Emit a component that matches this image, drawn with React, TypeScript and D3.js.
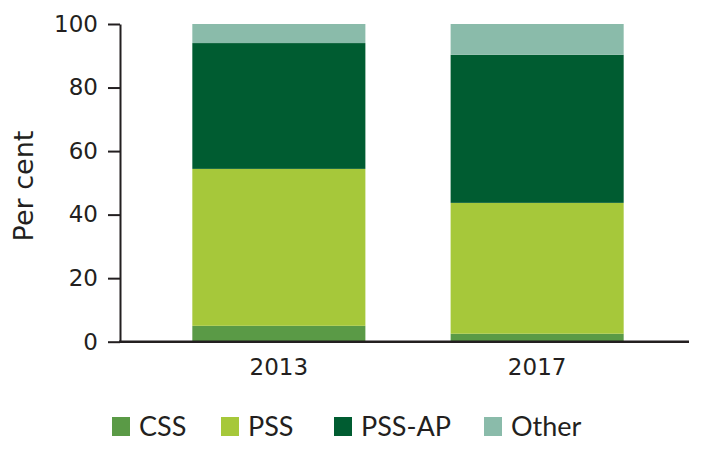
import { useEffect, useRef } from "react";
import * as d3 from "d3";

const years = ["2013", "2017"];
const seriesNames = ["CSS", "PSS", "PSS-AP", "Other"];
const cssValues = [5.0, 2.5];
const pssValues = [49.4, 41.2];
const pssApValues = [39.6, 46.6];
const otherValues = [6.0, 9.7];
const yTicks = [0, 20, 40, 60, 80, 100];
const colours = ["#5a9a46", "#a6c83a", "#005c31", "#8abbaa"];

const axisFont = "'DejaVu Sans', sans-serif";
const legendFont = "Lato, 'Open Sans', sans-serif";

export default function App() {
  const ref = useRef<SVGSVGElement>(null);

  useEffect(() => {
    const svg = d3.select(ref.current);
    svg.selectAll("*").remove();
    const width = 717;
    const height = 457;
    svg.attr("width", width).attr("height", height);

    const rows = years.map((year, i) => ({
      year,
      CSS: cssValues[i],
      PSS: pssValues[i],
      "PSS-AP": pssApValues[i],
      Other: otherValues[i],
    }));

    const x = d3
      .scaleBand<string>()
      .domain(years)
      .range([120, 696])
      .paddingInner(0.33)
      .paddingOuter(0.28);
    const y = d3.scaleLinear().domain([0, 100]).range([341.7, 24]);
    const colour = d3.scaleOrdinal<string>().domain(seriesNames).range(colours);

    const stacked = d3.stack<any>().keys(seriesNames)(rows);

    svg
      .append("g")
      .selectAll("g")
      .data(stacked)
      .enter()
      .append("g")
      .attr("fill", (d) => colour(d.key))
      .selectAll("rect")
      .data((d) => d)
      .enter()
      .append("rect")
      .attr("x", (d) => x(d.data.year)!)
      .attr("width", x.bandwidth())
      .attr("y", (d) => y(d[1]))
      .attr("height", (d) => y(d[0]) - y(d[1]));

    // y axis
    const yAxis = svg
      .append("g")
      .attr("transform", "translate(120,0)")
      .call(
        d3
          .axisLeft(y)
          .tickValues(yTicks)
          .tickSize(12)
          .tickPadding(10)
          .tickSizeOuter(0)
      );
    yAxis.select(".domain").attr("stroke", "#231f20").attr("stroke-width", 2);
    yAxis.selectAll(".tick line").attr("stroke", "#231f20").attr("stroke-width", 2);
    yAxis
      .selectAll(".tick text")
      .attr("fill", "#231f20")
      .style("font-family", axisFont)
      .style("font-size", "23px");

    // x baseline and labels
    svg
      .append("line")
      .attr("x1", 119)
      .attr("x2", 689)
      .attr("y1", y(0))
      .attr("y2", y(0))
      .attr("stroke", "#231f20")
      .attr("stroke-width", 2.5);

    svg
      .append("g")
      .selectAll("text")
      .data(years)
      .enter()
      .append("text")
      .attr("x", (d) => x(d)! + x.bandwidth() / 2)
      .attr("y", 375)
      .attr("text-anchor", "middle")
      .attr("fill", "#231f20")
      .style("font-family", axisFont)
      .style("font-size", "23px")
      .text((d) => d);

    svg
      .append("text")
      .attr("transform", "translate(33,186) rotate(-90)")
      .attr("text-anchor", "middle")
      .attr("fill", "#231f20")
      .style("font-family", axisFont)
      .style("font-size", "27px")
      .text("Per cent");

    // legend
    const legendX = [112, 221, 334, 484];
    const legend = svg
      .append("g")
      .selectAll("g")
      .data(seriesNames)
      .enter()
      .append("g")
      .attr("transform", (_d, i) => `translate(${legendX[i]},417)`);
    legend
      .append("rect")
      .attr("width", 18)
      .attr("height", 19)
      .attr("fill", (d) => colour(d));
    legend
      .append("text")
      .attr("x", 27)
      .attr("y", 19)
      .attr("fill", "#231f20")
      .style("font-family", legendFont)
      .style("font-size", "27px")
      .text((d) => d);
  }, []);

  return (
    <svg
      ref={ref}
      style={{ position: "absolute", left: 0, top: 0, background: "#fff" }}
    ></svg>
  );
}
